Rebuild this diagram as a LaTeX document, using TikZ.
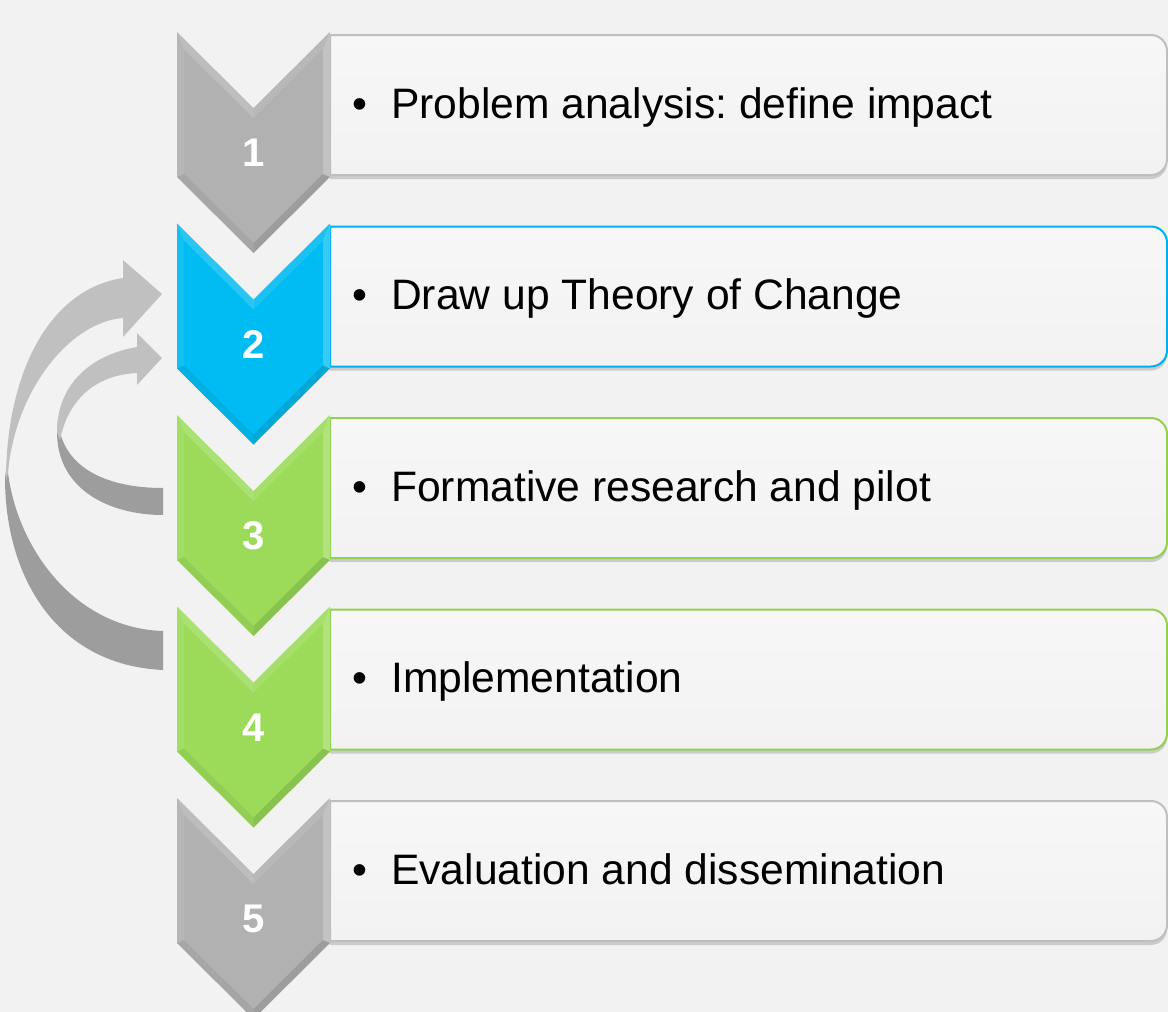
\documentclass[tikz,border=0pt]{standalone}
\usepackage{fontspec}
\setmainfont{Liberation Sans}
\frenchspacing
\definecolor{bg}{HTML}{F2F2F2}
\definecolor{boxtop}{HTML}{F7F7F7}
\definecolor{boxbot}{HTML}{F2F2F2}
\definecolor{grayc}{HTML}{B1B1B1}
\definecolor{bluec}{HTML}{00BCF2}
\definecolor{greenc}{HTML}{9CDB5A}
\definecolor{grayb}{HTML}{BFBFBF}
\definecolor{blueb}{HTML}{00B0F0}
\definecolor{greenb}{HTML}{92D050}
\definecolor{arrlight}{HTML}{C0C0C0}
\definecolor{arrdark}{HTML}{9D9D9D}
\newcommand\chevstep[5]{%
 \begin{scope}[shift={(177,#2)}]
  % box shadow
  \fill[black,opacity=.16] (153,6) -- (974,6) arc[start angle=90,end angle=0,radius=16pt] -- (990,131) arc[start angle=0,end angle=-90,radius=16pt] -- (153,147) -- cycle;
  % text box
  \path[draw=#4,line width=2pt,top color=boxtop,bottom color=boxbot] (153,3) -- (974,3) arc[start angle=90,end angle=0,radius=16pt] -- (990,127) arc[start angle=0,end angle=-90,radius=16pt] -- (153,143) -- cycle;
  % chevron with bevel
  \fill[#3] (0,0) -- (76.5,76) -- (153,0) -- (153,145) -- (76.5,221) -- (0,145) -- cycle;
  \fill[white,opacity=.16] (0,0) -- (76.5,76) -- (76.5,86) -- (7,17) -- cycle;
  \fill[white,opacity=.07] (0,0) -- (7,17) -- (7,142) -- (0,145) -- cycle;
  \fill[white,opacity=.10] (76.5,76) -- (153,0) -- (146,17) -- (76.5,86) -- cycle;
  \fill[white,opacity=.22] (153,0) -- (153,145) -- (146,142) -- (146,17) -- cycle;
  \fill[black,opacity=.06] (0,145) -- (76.5,221) -- (76.5,211) -- (7,142) -- cycle;
  \fill[black,opacity=.11] (153,145) -- (76.5,221) -- (76.5,211) -- (146,142) -- cycle;
  \node[num,anchor=base] (n#1) at (76.5,134.5) {#1};
  \node[txt,anchor=base] (b#1) at (183,86) {•};
  \node[txt,anchor=base west] (t#1) at (214,86) {#5};
 \end{scope}}
\begin{document}
\begin{tikzpicture}[x=1pt,y=-1pt,
  txt/.style={font=\fontsize{42.6}{50}\selectfont,text=black,inner sep=0pt},
  num/.style={font=\fontsize{40}{46}\selectfont\bfseries,text=white,inner sep=0pt}]
\fill[bg] (0,0) rectangle (1168,1012);
\useasboundingbox (0,0) rectangle (1168,1012);
% big feedback arrow (4 -> 2)
\fill[arrdark] (7,462) .. controls (12,540) and (70,628) .. (163,631) -- (163,670) .. controls (55,665) and (5,575) .. (5,478) -- cycle;
\fill[arrlight] (6,480) .. controls (6,380) and (45,290) .. (123,278) -- (123,260) -- (162,294) -- (123,337) -- (123,318) .. controls (70,322) and (15,390) .. (8,473) -- cycle;
% small feedback arrow (3 -> 2)
\fill[arrdark] (58,420) .. controls (62,470) and (110,488) .. (163,488) -- (163,515) .. controls (110,515) and (57,490) .. (57,432) -- cycle;
\fill[arrlight] (57,432) .. controls (57,385) and (90,355) .. (137,347) -- (137,333) -- (162,358) -- (137,385) -- (137,373) .. controls (95,375) and (68,400) .. (60,440) -- cycle;
% steps
\chevstep{1}{32}{grayc}{grayb}{Problem analysis: define impact}
\chevstep{2}{223.5}{bluec}{blueb}{Draw up Theory of Change}
\chevstep{3}{415}{greenc}{greenb}{Formative research and pilot}
\chevstep{4}{606.5}{greenc}{greenb}{Implementation}
\chevstep{5}{798}{grayc}{grayb}{Evaluation and dissemination}
\end{tikzpicture}
\end{document}
